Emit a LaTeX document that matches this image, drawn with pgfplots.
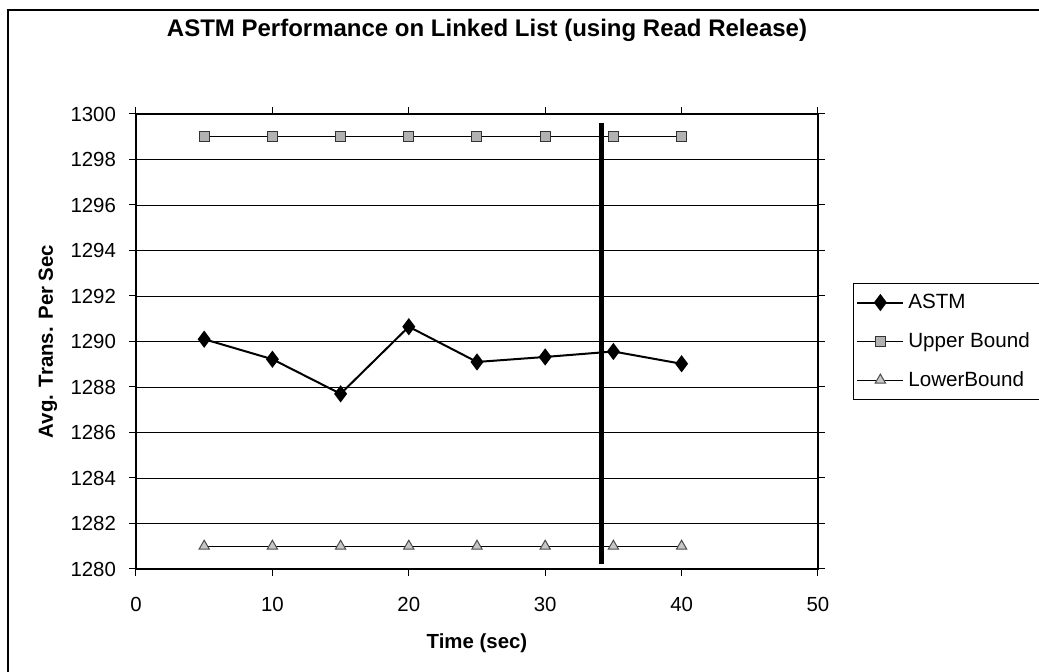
\documentclass[border=0pt]{standalone}
\usepackage{pgfplots}
\pgfplotsset{compat=1.18}
\usepackage{fontspec}
\setmainfont{Liberation Sans}
\begin{document}
\begin{tikzpicture}
\useasboundingbox (-68pt,-51.5pt) rectangle (451.5pt,284.5pt);
\draw[black,line width=0.6pt] (-64pt,-51.5pt) -- (-64pt,279.5pt) -- (451.5pt,279.5pt);
\begin{axis}[
  at={(0pt,0pt)}, anchor=south west,
  scale only axis, width=341pt, height=227.5pt,
  xmin=0, xmax=50, ymin=1280, ymax=1300,
  xtick={0,10,...,50}, ytick={1280,1282,...,1300},
  tick align=outside, major tick length=3.5pt,
  tick style={black, line width=0.5pt},
  axis line style={black, line width=0.6pt},
  ymajorgrids, grid style={black, line width=0.4pt},
  /pgf/number format/assume math mode=true,
  /pgf/number format/1000 sep={},
  ticklabel style={font=\fontsize{10.2}{12}\selectfont},
  xticklabel style={yshift=-7pt},
  yticklabel style={xshift=-3pt},
  xlabel={\textbf{Time (sec)}},
  ylabel={\textbf{Avg. Trans. Per Sec}},
  label style={font=\fontsize{10.2}{12}\selectfont},
  xlabel style={at={(axis description cs:0.5,-0.127)}, anchor=north},
  ylabel style={at={(axis description cs:-0.129,0.5)}, anchor=center},
  legend style={at={(axis description cs:1.051,0.5)}, anchor=west,
    draw=black, line width=0.6pt, font=\fontsize{10.3}{12}\selectfont,
    inner xsep=1.5pt, inner ysep=3pt, row sep=6.5pt},
  legend cell align=left,
  legend image code/.code={\draw[mark repeat=2,mark phase=2,#1] plot coordinates {(0pt,0pt) (11.5pt,0pt) (23pt,0pt)};},
  clip=false,
]
\addplot[black, line width=1pt, mark=diamond*, mark size=3.5pt, mark options={fill=black}]
  coordinates {(5,1290.1) (10,1289.22) (15,1287.7) (20,1290.65) (25,1289.1) (30,1289.32) (35,1289.56) (40,1289.02)};
\addlegendentry{ASTM}
\addplot[black, line width=0.5pt, mark=square*, mark size=2.5pt, mark options={fill=gray!60, draw=black!80}]
  coordinates {(5,1299) (10,1299) (15,1299) (20,1299) (25,1299) (30,1299) (35,1299) (40,1299)};
\addlegendentry{Upper Bound\rule{14pt}{0pt}}
\addplot[black, line width=0.5pt, mark=triangle*, mark size=3pt, mark options={fill=gray!45, draw=black!70}]
  coordinates {(5,1281) (10,1281) (15,1281) (20,1281) (25,1281) (30,1281) (35,1281) (40,1281)};
\addlegendentry{LowerBound}
\addplot[black, line width=2.6pt, forget plot] coordinates {(34.1,1280.2) (34.1,1299.6)};
\end{axis}
\node[font=\bfseries\fontsize{12}{14}\selectfont] at (175.5pt,269.5pt) {ASTM Performance on Linked List (using Read Release)};
\end{tikzpicture}
\end{document}
